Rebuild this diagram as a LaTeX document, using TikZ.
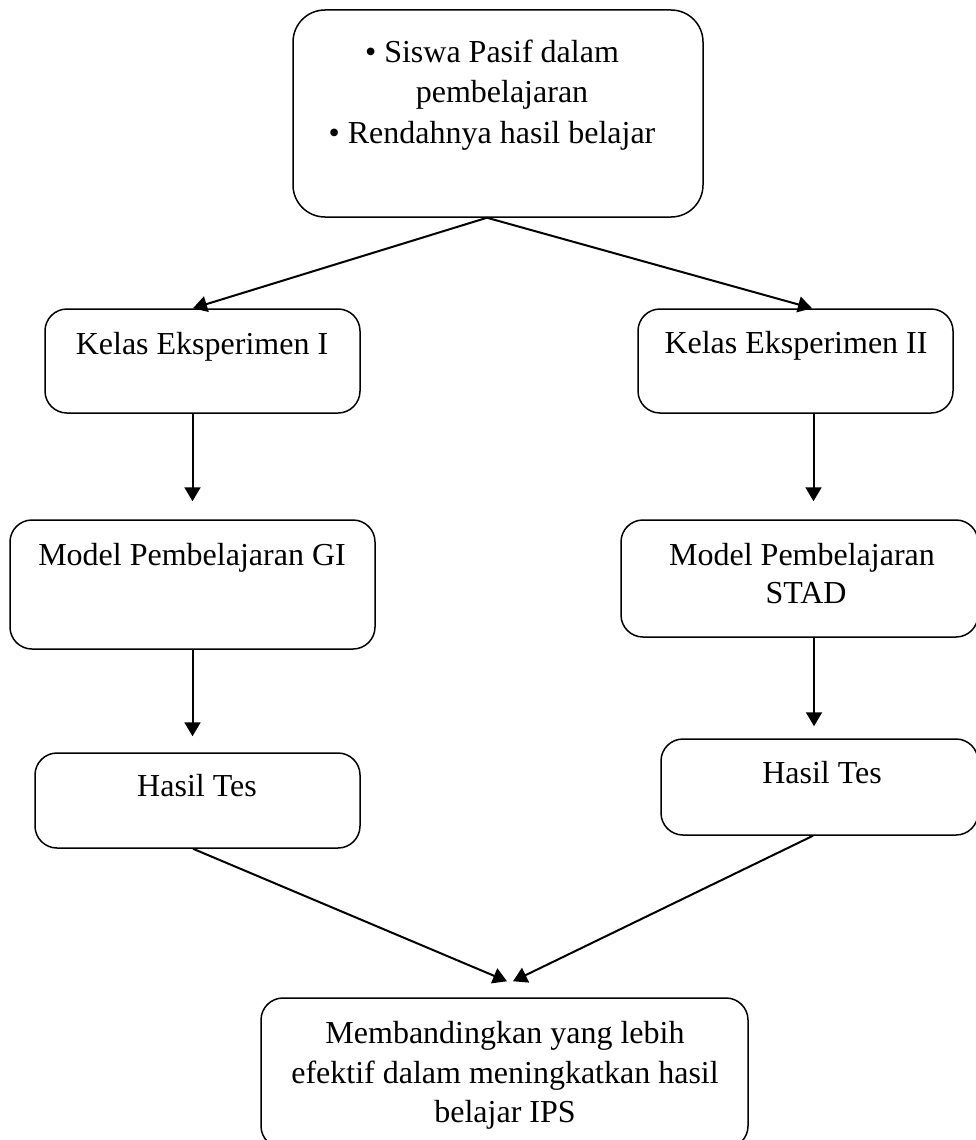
\documentclass[tikz,border=0pt]{standalone}
\usepackage{fontspec}
\setmainfont{Liberation Serif}
\usetikzlibrary{arrows.meta,calc}
\tikzset{
  box/.style={draw, line width=1.5pt, rounded corners=22pt, inner sep=0pt},
  txt/.style={font=\fontsize{32pt}{38pt}\selectfont, inner sep=0pt, anchor=base},
  arr/.style={-{Triangle[length=14pt,width=16pt]}, line width=2pt}
}
\begin{document}
\begin{tikzpicture}[x=1pt,y=-1pt]
\useasboundingbox (0,0) rectangle (976,1140);
% boxes
\node[box, rounded corners=32pt, minimum width=410pt, minimum height=207pt] (top) at (498,113.5) {};
\node[box, minimum width=315pt, minimum height=104pt] (k1) at (202.5,361) {};
\node[box, minimum width=315pt, minimum height=104pt] (k2) at (795.5,361) {};
\node[box, minimum width=365pt, minimum height=129pt] (m1) at (192.5,584.5) {};
\node[box, minimum width=357pt, minimum height=117pt] (m2) at (799.5,578.5) {};
\node[box, minimum width=325pt, minimum height=95pt] (h1) at (197.5,800.5) {};
\node[box, minimum width=317pt, minimum height=96pt] (h2) at (819.5,787) {};
\node[box, minimum width=487pt, minimum height=150pt] (bot) at (504.5,1073) {};
% texts
\node[txt] (t1) at (492,63) {•\ Siswa Pasif dalam};
\node[txt] (t2) at (502,102) {pembelajaran};
\node[txt] (t3) at (492,143) {•\ Rendahnya hasil belajar};
\node[txt] (k1t) at (202,354) {Kelas Eksperimen I};
\node[txt] (k2t) at (796,353) {Kelas Eksperimen II};
\node[txt] (m1t) at (192,565) {Model Pembelajaran GI};
\node[txt] (m2t1) at (802,565) {Model Pembelajaran};
\node[txt] (m2t2) at (806,603) {STAD};
\node[txt] (h1t) at (197,796) {Hasil Tes};
\node[txt] (h2t) at (822,783) {Hasil Tes};
\node[txt] (b1) at (505,1043) {Membandingkan yang lebih};
\node[txt] (b2) at (505,1083) {efektif dalam meningkatkan hasil};
\node[txt] (b3) at (505,1122) {belajar IPS};
% connectors
\draw[arr] ([xshift=-11pt]top.south) -- ([xshift=-9.5pt]k1.north);
\draw[arr] ([xshift=-11pt]top.south) -- ([xshift=16.5pt]k2.north);
\draw[arr] (k1.south -| m1.north) -- ($(m1.north)+(0,-18)$);
\draw[arr] ([xshift=18pt]k2.south) -- ($(m2.north)+(14,-18)$);
\draw[arr] (m1.south) -- ($(m1.south |- h1.north)+(0,-16)$);
\draw[arr] ([xshift=14.5pt]m2.south) -- ($(m2.south |- h2.north)+(14.5,-12)$);
\draw[arr] ([xshift=-4.5pt]h1.south) -- ($(bot.north)+(2.5,-16)$);
\draw[arr] ([xshift=-6.5pt]h2.south) -- ($(bot.north)+(8.5,-16)$);
\end{tikzpicture}
\end{document}
